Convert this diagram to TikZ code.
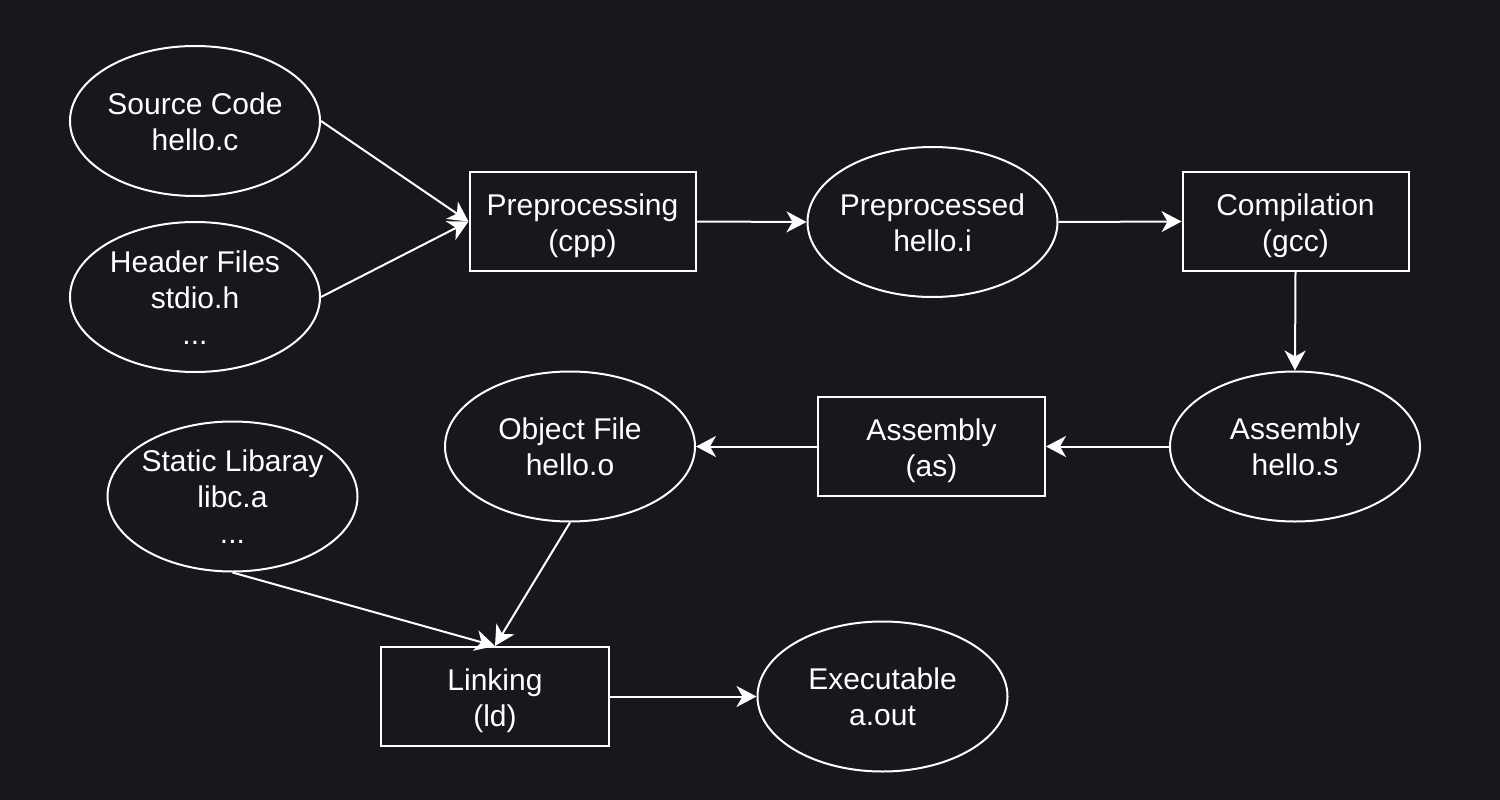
\documentclass[tikz,border=0pt]{standalone}
\usepackage{fontspec}
\setmainfont{Liberation Sans}
\usetikzlibrary{shapes.geometric,arrows.meta}
\definecolor{bg}{HTML}{19161E}
\tikzset{
  lbl/.style={text=white,align=center,font=\fontsize{30pt}{36pt}\selectfont},
  ell/.style={ellipse,draw=white,line width=2pt,minimum width=250pt,minimum height=150pt,inner sep=0pt},
  box/.style={rectangle,draw=white,line width=2pt,minimum width=226pt,minimum height=99pt,inner sep=0pt},
  txt/.style={lbl,inner sep=0pt,yshift=-4pt},
  etxt/.style={lbl,inner sep=0pt,yshift=-0.5pt},
  arr/.style={draw=white,line width=2pt,-{Stealth[length=20pt,width=21pt,inset=6pt]}}
}
\begin{document}
\begin{tikzpicture}[x=1pt,y=-1pt]
\fill[bg] (0,0) rectangle (1500,800);
\useasboundingbox (0,0) rectangle (1500,800);
\node[ell] (src) at (195,121) {};
\node[etxt] (srct) at (src.center) {Source Code\\hello.c};
\node[ell] (hdr) at (195,297) {};
\node[etxt] (hdrt) at (hdr.center) {Header Files\\stdio.h\\...};
\node[box] (pre) at (582.5,221.5) {};
\node[txt] (pret) at (pre.center) {Preprocessing\\(cpp)};
\node[ell] (ppd) at (932.5,222) {};
\node[etxt] (ppdt) at (ppd.center) {Preprocessed\\hello.i};
\node[box] (cmp) at (1295.5,221.5) {};
\node[txt] (cmpt) at (cmp.center) {Compilation\\(gcc)};
\node[ell] (asf) at (1295,446.5) {};
\node[etxt] (asft) at (asf.center) {Assembly\\hello.s};
\node[box,minimum width=227pt] (asm) at (931.5,446.5) {};
\node[txt] (asmt) at (asm.center) {Assembly\\(as)};
\node[ell] (obj) at (570,446.5) {};
\node[etxt] (objt) at (obj.center) {Object File\\hello.o};
\node[ell] (lib) at (232.5,496.5) {};
\node[etxt] (libt) at (lib.center) {Static Libaray\\libc.a\\...};
\node[box,minimum width=228pt] (lnk) at (495,696.5) {};
\node[txt] (lnkt) at (lnk.center) {Linking\\(ld)};
\node[ell] (exe) at (882.5,696.5) {};
\node[etxt] (exet) at (exe.center) {Executable\\a.out};
\draw[arr] (src.east) -- (pre.west);
\draw[arr] (hdr.east) -- (pre.west);
\draw[arr] (pre.east) -- (ppd.west);
\draw[arr] (ppd.east) -- (cmp.west);
\draw[arr] (cmp.south) -- (asf.north);
\draw[arr] (asf.west) -- (asm.east);
\draw[arr] (asm.west) -- (obj.east);
\draw[arr] (obj.south) -- (lnk.north);
\draw[arr] (lib.south) -- (lnk.north);
\draw[arr] (lnk.east) -- (exe.west);
\end{tikzpicture}
\end{document}
